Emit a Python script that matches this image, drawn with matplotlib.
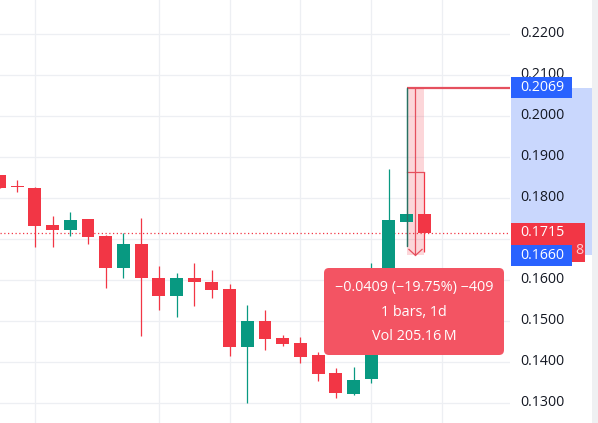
import matplotlib
matplotlib.use("Agg")
import matplotlib.pyplot as plt
from matplotlib.patches import Rectangle, FancyBboxPatch
import numpy as np

plt.rcParams['font.family'] = ['Open Sans', 'DejaVu Sans']

# ---- data (daily candles) ----
opens  = [0.1856, 0.1828, 0.1825, 0.1734, 0.1722, 0.1749, 0.1707, 0.1629, 0.1688, 0.1605,
          0.1561, 0.1605, 0.1595, 0.1578, 0.1437, 0.1500, 0.1459, 0.1446, 0.1417, 0.1373,
          0.1322, 0.1359, 0.1612, 0.1741, 0.1761]
highs  = [0.1857, 0.1844, 0.1827, 0.1756, 0.1766, 0.1749, 0.1710, 0.1715, 0.1751, 0.1634,
          0.1617, 0.1641, 0.1624, 0.1590, 0.1539, 0.1527, 0.1466, 0.1461, 0.1424, 0.1385,
          0.1388, 0.1641, 0.1871, 0.2069, 0.1863]
lows   = [0.1824, 0.1815, 0.1680, 0.1680, 0.1707, 0.1688, 0.1580, 0.1605, 0.1463, 0.1527,
          0.1510, 0.1537, 0.1556, 0.1415, 0.1300, 0.1429, 0.1439, 0.1398, 0.1354, 0.1312,
          0.1320, 0.1349, 0.1600, 0.1683, 0.1668]
closes = [0.1825, 0.1826, 0.1732, 0.1722, 0.1746, 0.1705, 0.1629, 0.1688, 0.1605, 0.1561,
          0.1605, 0.1595, 0.1576, 0.1437, 0.1500, 0.1456, 0.1444, 0.1412, 0.1371, 0.1324,
          0.1356, 0.1615, 0.1746, 0.1761, 0.1715]

price_ticks = [0.13, 0.14, 0.15, 0.16, 0.18, 0.19, 0.20, 0.21, 0.22]
grid_bars = [2, 9, 13, 17, 21, 25]

last_price = 0.1715
range_top = 0.2069
range_bottom = 0.1660
range_bar = 23
tooltip_lines = ["\u22120.0409 (\u221219.75%) \u2212409", "1 bars, 1d", "Vol 205.16\u2009M"]
countdown_tail = "8"

GREEN = "#089981"
RED = "#F23645"
BLUE = "#2962FF"
GRID = "#EDEFF3"

W, H = 598, 423
fig = plt.figure(figsize=(W / 100, H / 100), dpi=100)
fig.patch.set_facecolor("white")

ylim = (0.12512, 0.22829)
ppx = (ylim[1] - ylim[0]) / H   # price per pixel

# main chart axes
ax = fig.add_axes([0, 0, 510 / W, 1])
ax.set_xlim(0.028, 28.84)
ax.set_ylim(*ylim)
ax.axis("off")

for p in price_ticks + [0.17]:
    ax.axhline(p, color=GRID, lw=0.9, zorder=0)
for b in grid_bars:
    ax.axvline(b, color=GRID, lw=0.9, zorder=0)

idx = np.arange(len(opens))
o = np.array(opens); c = np.array(closes); hi = np.array(highs); lo = np.array(lows)
cols = [GREEN if cc >= oo else RED for oo, cc in zip(o, c)]
ax.vlines(idx, lo, hi, colors=cols, lw=0.9, zorder=3)
bottoms = np.minimum(o, c)
heights = np.maximum(np.abs(c - o), 1.2 * ppx)
ax.bar(idx, heights, bottom=bottoms, width=0.73, color=cols, zorder=4, linewidth=0)

# last price dotted line
ax.axhline(last_price, color=RED, lw=0.9, ls=(0, (1, 2)), zorder=2)

# price range measurement overlay
ax.add_patch(Rectangle((range_bar, range_bottom), 1.0, range_top - range_bottom,
                       facecolor=RED, alpha=0.2, linewidth=0, zorder=2))
ax.plot([range_bar, 28.84], [range_top, range_top], color="#E5505E", lw=1.6, zorder=5,
        solid_capstyle="butt")
ax.plot([range_bar + 0.5, range_bar + 0.5], [range_top, range_bottom], color="#E5505E",
        lw=0.9, zorder=5)
ax.plot([range_bar + 0.13, range_bar + 0.5, range_bar + 0.87],
        [range_bottom + 6 * ppx, range_bottom, range_bottom + 6 * ppx],
        color="#E5505E", lw=0.9, zorder=5)
ax.plot([range_bar, range_bar + 1], [highs[range_bar + 1]] * 2, color="#E5505E", lw=0.9, zorder=5)
ax.plot([range_bar, range_bar], [range_top, lows[range_bar]], color="#2A6F62", lw=0.9, zorder=5)

# price axis
pax = fig.add_axes([510 / W, 0, 88 / W, 1])
pax.set_xlim(0, 88)
pax.set_ylim(*ylim)
pax.axis("off")
pax.add_patch(Rectangle((82, ylim[0]), 6, ylim[1] - ylim[0], facecolor="#EFF0F2", lw=0))
pax.add_patch(Rectangle((1, range_bottom), 81, range_top - range_bottom,
                        facecolor="#C9D7FD", lw=0, zorder=1))
FS = 10.2
for p in price_ticks:
    pax.text(10.5, p, f"{p:.4f}", fontsize=FS, color="#131722", va="center", ha="left", zorder=2)

# last price label (red, two rows)
pax.add_patch(Rectangle((1, last_price - 29 * ppx), 74, 39 * ppx, facecolor=RED, lw=0, zorder=3))
pax.text(10.5, last_price, f"{last_price:.4f}", fontsize=FS, color="white", va="center",
         ha="left", zorder=4)
pax.text(73, last_price - 18 * ppx, countdown_tail, fontsize=FS, color="#FFC9CE", va="center",
         ha="right", zorder=4)

# range labels (blue)
for p in (range_top, range_bottom):
    pax.add_patch(Rectangle((1, p - 10.5 * ppx), 61, 21 * ppx, facecolor=BLUE, lw=0, zorder=5))
    pax.text(10.5, p, f"{p:.4f}", fontsize=FS, color="white", va="center", ha="left", zorder=6)

# tooltip overlay in pixel coordinates
ov = fig.add_axes([0, 0, 1, 1], zorder=10)
ov.set_xlim(0, W)
ov.set_ylim(H, 0)
ov.axis("off")
ov.patch.set_alpha(0)
ov.add_patch(FancyBboxPatch((324, 268), 180, 87, boxstyle="round,pad=0,rounding_size=5",
                            facecolor="#F35463", edgecolor="none"))
for i, t in enumerate(tooltip_lines):
    ov.text(414, 287 + 25 * i, t, fontsize=10.4, color="white", ha="center", va="center")

fig.savefig("out.png", dpi=100)
